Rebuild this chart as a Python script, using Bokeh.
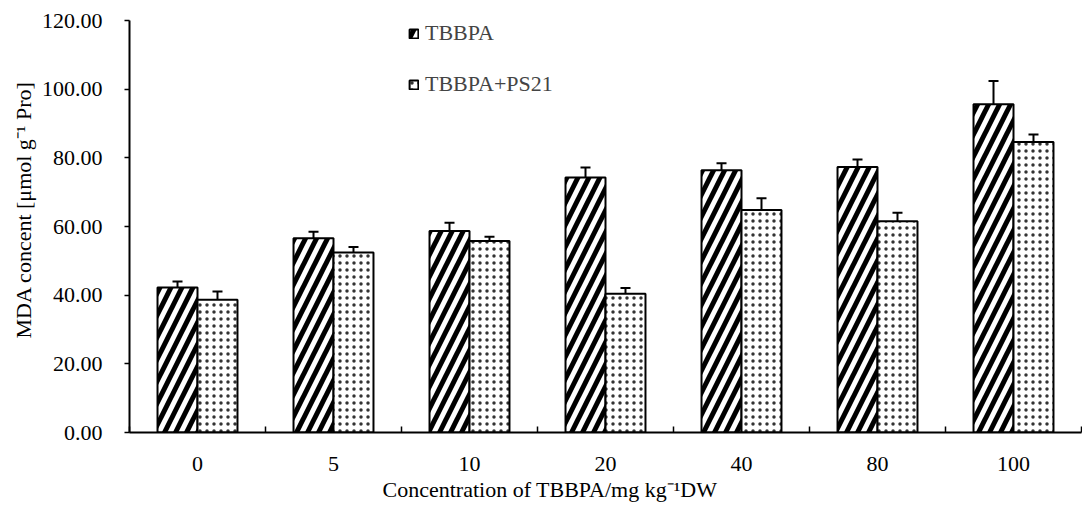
from bokeh.plotting import figure
from bokeh.models import (ColumnDataSource, Range1d, FixedTicker, NumeralTickFormatter,
                          Whisker, TeeHead, Legend, LegendItem, Title)
from bokeh.embed import file_html
from bokeh.resources import INLINE

categories = ["0", "5", "10", "20", "40", "80", "100"]
tbbpa = [42.2, 56.6, 58.7, 74.3, 76.4, 77.3, 95.6]
tbbpa_err = [1.8, 1.9, 2.4, 2.9, 2.0, 2.2, 6.8]
ps21 = [38.7, 52.4, 55.8, 40.4, 64.8, 61.5, 84.6]
ps21_err = [2.4, 1.6, 1.2, 1.7, 3.4, 2.5, 2.2]
y_ticks = [0, 20, 40, 60, 80, 100, 120]
x_title = "Concentration of TBBPA/mg kg\u207b\u00b9DW"
y_title = "MDA concent [\u03bcmol g\u207b\u00b9 Pro]"

FONT = "Liberation Serif"
BW = 0.294

centers = [i + 0.5 for i in range(len(categories))]
src = ColumnDataSource(dict(
    xc=centers,
    x1=[c - BW / 2 for c in centers],
    x2=[c + BW / 2 for c in centers],
    t=tbbpa, t_lo=[v - e for v, e in zip(tbbpa, tbbpa_err)], t_hi=[v + e for v, e in zip(tbbpa, tbbpa_err)],
    s=ps21, s_lo=[v - e for v, e in zip(ps21, ps21_err)], s_hi=[v + e for v, e in zip(ps21, ps21_err)],
))

p = figure(width=1082, height=505, output_backend="svg", toolbar_location=None,
           x_range=Range1d(0, len(categories)), y_range=Range1d(0, 120),
           min_border_left=129, min_border_right=1, min_border_top=20, min_border_bottom=73)
p.outline_line_color = None
p.xgrid.visible = False
p.ygrid.visible = False

r1 = p.vbar(x="x1", top="t", width=BW, source=src, fill_color="white", line_color="black",
            line_width=2, hatch_pattern="/", hatch_scale=22, hatch_weight=5, hatch_color="black")
r2 = p.vbar(x="x2", top="s", width=BW, source=src, fill_color="white", line_color="black",
            line_width=2, hatch_pattern=".", hatch_scale=7, hatch_weight=1.5, hatch_color="#333333")

for xcol, lo, hi in (("x1", "t_lo", "t_hi"), ("x2", "s_lo", "s_hi")):
    w = Whisker(base=xcol, lower=lo, upper=hi, source=src, line_color="black", line_width=2,
                upper_head=TeeHead(size=10, line_width=2, line_color="black"),
                lower_head=TeeHead(size=10, line_width=2, line_color="black"))
    p.add_layout(w)

# x axis
xa = p.xaxis[0]
xa.ticker = FixedTicker(ticks=centers, minor_ticks=list(range(len(categories) + 1)))
xa.major_label_overrides = {c: lab for c, lab in zip(centers, categories)}
xa.major_tick_line_color = None
xa.minor_tick_in = 6
xa.minor_tick_out = 0
xa.minor_tick_line_color = "black"
xa.minor_tick_line_width = 1.5
xa.axis_line_width = 2
xa.major_label_standoff = 18

# y axis
ya = p.yaxis[0]
ya.ticker = FixedTicker(ticks=y_ticks)
ya.formatter = NumeralTickFormatter(format="0.00")
ya.major_tick_out = 5
ya.major_tick_in = 0
ya.minor_tick_line_color = None
ya.axis_line_width = 2
ya.major_tick_line_width = 1.5
ya.major_label_standoff = 22

for ax in (xa, ya):
    ax.major_label_text_font = FONT
    ax.major_label_text_font_size = "22px"
    ax.major_label_text_color = "black"
    ax.axis_line_color = "black"

# axis titles, offset along the axis like in the original chart
p.add_layout(Title(text=x_title, align="left", offset=253, standoff=2, text_font=FONT,
                   text_font_size="22px", text_font_style="normal", text_color="black"), "below")
p.add_layout(Title(text=y_title, align="left", offset=94, standoff=6, text_font=FONT,
                   text_font_size="22px", text_font_style="normal", text_color="black"), "left")

legend = Legend(items=[LegendItem(label="TBBPA", renderers=[r1]),
                       LegendItem(label="TBBPA+PS21", renderers=[r2])],
                location=(279, 335), padding=0, margin=0, spacing=25,
                glyph_width=11, glyph_height=11, label_standoff=6, label_height=22,
                label_text_font=FONT, label_text_font_size="22px",
                border_line_color=None, background_fill_alpha=0)
p.add_layout(legend)

open("out.html", "w").write(file_html(p, INLINE))
